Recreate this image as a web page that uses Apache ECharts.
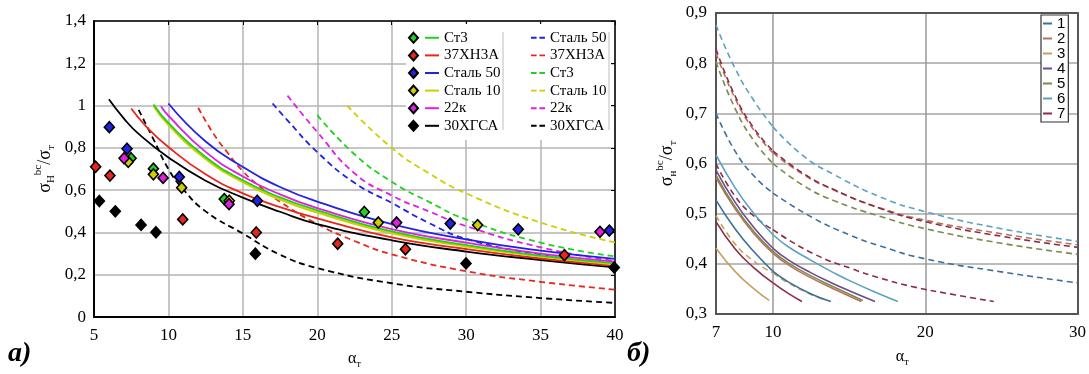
<!DOCTYPE html>
<html>
<head>
<meta charset="utf-8">
<script src="https://cdn.jsdelivr.net/npm/echarts@6/dist/echarts.min.js"></script>
<style>
  html, body { margin: 0; padding: 0; background: #fff; }
  #chart { width: 1089px; height: 374px; }
</style>
</head>
<body>
<div id="chart"></div>
<script>
// ---------------- Panel a) data ----------------
const materialsA = ['Ст3', '37ХН3А', 'Сталь 50', 'Сталь 10', '22к', '30ХГСА'];
const dashedOrderA = ['Сталь 50', '37ХН3А', 'Ст3', 'Сталь 10', '22к', '30ХГСА'];
const xTicksA = [5, 10, 15, 20, 25, 30, 35, 40];
const yTicksA = [0, 0.2, 0.4, 0.6, 0.8, 1, 1.2, 1.4];

// experimental points [α_т, σ/σ_т]
const ptsSt3   = [[7.49,0.751],[8.99,0.702],[13.75,0.558],[23.16,0.497]];
const pts37    = [[5.11,0.711],[6.07,0.669],[10.96,0.462],[15.9,0.40],[21.37,0.347],[25.92,0.321],[36.6,0.293]];
const ptsSt50  = [[6.03,0.898],[7.22,0.796],[10.73,0.663],[15.97,0.55],[28.93,0.442],[33.5,0.415],[39.62,0.409]];
const ptsSt10  = [[7.3,0.734],[8.99,0.675],[10.89,0.612],[14.09,0.55],[24.1,0.447],[30.77,0.435]];
const pts22k   = [[7.02,0.751],[9.64,0.658],[14.07,0.534],[25.33,0.447],[38.99,0.403]];
const pts30    = [[5.36,0.549],[6.43,0.50],[8.16,0.436],[9.16,0.401],[15.84,0.30],[29.99,0.254],[39.95,0.234]];

// solid curves
const solSt3  = [[9,1.005],[10,0.918],[12.5,0.757],[15,0.647],[17.5,0.566],[20,0.505],[25,0.405],[30,0.341],[35,0.291],[40,0.255]];
const sol37   = [[7.5,0.986],[8.5,0.902],[10,0.804],[12.5,0.675],[15,0.585],[17.5,0.52],[20,0.467],[25,0.377],[30,0.322],[35,0.277],[40,0.242]];
const solSt50 = [[10,1.01],[12.5,0.83],[15,0.71],[17.5,0.615],[20,0.546],[25,0.44],[30,0.368],[35,0.314],[40,0.275]];
const solSt10 = [[9,1.0],[10,0.91],[12.5,0.749],[15,0.639],[17.5,0.556],[20,0.495],[25,0.397],[30,0.335],[35,0.287],[40,0.25]];
const sol22k  = [[9.5,0.997],[10,0.952],[12.5,0.781],[15,0.665],[17.5,0.58],[20,0.515],[25,0.416],[30,0.352],[35,0.3],[40,0.262]];
const sol30   = [[6,1.03],[7,0.94],[8,0.866],[10,0.755],[12.5,0.645],[15,0.565],[17.5,0.498],[20,0.44],[25,0.363],[30,0.31],[35,0.27],[40,0.235]];

// dashed curves
const dsSt50 = [[17,1.01],[18,0.93],[20,0.78],[22.5,0.635],[25,0.54],[27.5,0.445],[30,0.37],[35,0.295],[40,0.242]];
const ds37   = [[12,0.99],[13,0.87],[14,0.775],[15,0.69],[16,0.625],[17.5,0.545],[20,0.44],[22.5,0.36],[25,0.297],[30,0.217],[35,0.167],[40,0.13]];
const dsSt3  = [[20,0.955],[22.5,0.77],[25,0.64],[27.5,0.545],[30,0.462],[35,0.352],[40,0.287]];
const dsSt10 = [[22,1.0],[25,0.80],[27.5,0.68],[30,0.585],[35,0.447],[40,0.353]];
const ds22k  = [[18,1.047],[20,0.875],[22.5,0.68],[25,0.575],[27.5,0.5],[30,0.43],[35,0.33],[40,0.265]];
const ds30   = [[8,0.98],[9,0.84],[10,0.70],[10.9,0.612],[12.5,0.5],[15,0.395],[17.5,0.295],[20,0.232],[25,0.16],[30,0.12],[35,0.09],[40,0.067]];

// ---------------- Panel б) data ----------------
const namesB = ['1', '2', '3', '4', '5', '6', '7'];
const xLabelsB = [7, 10, 20, 30];
const yTicksB = [0.3, 0.4, 0.5, 0.6, 0.7, 0.8, 0.9];

const solB1 = [[7,0.527],[8,0.47],[9,0.424],[10,0.385],[11,0.364],[12.5,0.34],[13.8,0.325]];
const solB2 = [[7,0.572],[8,0.51],[9,0.46],[10,0.421],[11,0.398],[12.5,0.372],[14,0.35],[15.8,0.325]];
const solB3 = [[7,0.431],[8,0.385],[9,0.35],[9.8,0.327]];
const solB4 = [[7,0.587],[8,0.523],[9,0.472],[10,0.431],[11,0.408],[12.5,0.382],[14,0.36],[15.2,0.344],[16.7,0.325]];
const solB5 = [[7,0.577],[8,0.514],[9,0.464],[10,0.425],[11,0.402],[12.5,0.376],[14,0.354],[15.9,0.327]];
const solB6 = [[7,0.617],[8,0.552],[9,0.5],[10,0.458],[11,0.434],[12.5,0.407],[14,0.382],[15.2,0.364],[17,0.34],[18.2,0.325]];
const solB7 = [[7,0.484],[8,0.43],[9,0.392],[10,0.362],[11,0.341],[11.9,0.325]];

const dsB1  = [[7,0.70],[8,0.625],[9,0.575],[10,0.541],[12.6,0.492],[15,0.458],[17,0.436],[20,0.41],[25,0.384],[30,0.362]];
const dsB2  = [[7,0.82],[8,0.73],[9,0.666],[10,0.621],[12,0.578],[14,0.547],[17,0.512],[20,0.487],[25,0.46],[30,0.438]];
const dsB3  = [[7,0.496],[8,0.44],[9,0.405],[10,0.382],[11,0.362],[12.3,0.342],[13.5,0.327]];
const dsB5  = [[7,0.803],[8,0.71],[9,0.645],[10,0.60],[12,0.556],[14,0.526],[17,0.495],[20,0.47],[25,0.441],[30,0.419]];
const dsB6  = [[7,0.876],[8,0.79],[9,0.725],[10,0.673],[12,0.615],[14,0.578],[17,0.534],[20,0.504],[25,0.47],[30,0.445]];
const dsB7  = [[7,0.828],[8,0.735],[9,0.67],[10,0.625],[12,0.58],[14,0.548],[17,0.511],[20,0.484],[25,0.455],[30,0.433]];
const dsB7b = [[7,0.6],[8,0.535],[9,0.495],[10,0.468],[12.6,0.421],[15.2,0.39],[17,0.372],[19.1,0.355],[22,0.338],[24.5,0.325]];

// ---------------- styles ----------------
const SERIF = '"Liberation Serif", "DejaVu Serif", serif';
const SANS = '"Liberation Sans", "DejaVu Sans", sans-serif';
const colA = { 'Ст3': '#1fd21f', '37ХН3А': '#e8261e', 'Сталь 50': '#2222e6', 'Сталь 10': '#cfcf00', '22к': '#e020e0', '30ХГСА': '#000000' };
const colB = { '1': '#3d6f9c', '2': '#b8705a', '3': '#c2a25e', '4': '#6c4b8c', '5': '#7a8a4c', '6': '#5aa2c2', '7': '#8c2c48' };

const ptsA = { 'Ст3': ptsSt3, '37ХН3А': pts37, 'Сталь 50': ptsSt50, 'Сталь 10': ptsSt10, '22к': pts22k, '30ХГСА': pts30 };
const solA = { 'Ст3': solSt3, '37ХН3А': sol37, 'Сталь 50': solSt50, 'Сталь 10': solSt10, '22к': sol22k, '30ХГСА': sol30 };
const dsA  = { 'Ст3': dsSt3, '37ХН3А': ds37, 'Сталь 50': dsSt50, 'Сталь 10': dsSt10, '22к': ds22k, '30ХГСА': ds30 };
const solB = { '1': solB1, '2': solB2, '3': solB3, '4': solB4, '5': solB5, '6': solB6, '7': solB7 };
const dsB  = [['1', dsB1], ['6', dsB6], ['2', dsB2], ['7', dsB7], ['5', dsB5], ['7', dsB7b], ['3', dsB3]];

const fmtComma = v => String(Math.round(v * 10) / 10).replace('.', ',');
const DASH_ICON = 'path://M0,0H6V2H0Z M9,0H15V2H9Z';
const AXIS_B = '#555';

const series = [];
function lineSeries(name, data, color, dashed, xi, yi, width) {
  return {
    name, type: 'line', data, xAxisIndex: xi, yAxisIndex: yi,
    symbol: 'none', smooth: 0.5, silent: true,
    lineStyle: { color, width: width || 1.8, type: dashed ? [6, 4] : 'solid' },
    itemStyle: { color },
    z: 3
  };
}
// panel a
dashedOrderA.forEach(m => series.push(lineSeries(m + ' (расчёт)', dsA[m], colA[m], true, 0, 0, 1.8)));
['30ХГСА', '37ХН3А', 'Сталь 10', 'Ст3', '22к', 'Сталь 50'].forEach(m =>
  series.push(lineSeries(m, solA[m], colA[m], false, 0, 0, m === 'Сталь 10' ? 2.4 : 1.8)));
materialsA.forEach(m => series.push({
  name: m + ' (опыт)', type: 'scatter', data: ptsA[m], xAxisIndex: 0, yAxisIndex: 0,
  symbol: 'diamond', symbolSize: [10, 11], silent: true,
  itemStyle: { color: colA[m], borderColor: '#000', borderWidth: 1.6, opacity: 1 },
  z: 5
}));
// panel b: the x scale of the original is stretched on 7..10, so it is drawn as two joined x-axes
function pushB(name, data, color, dashed) {
  const lo = data.filter(p => p[0] <= 10);
  const hi = data.filter(p => p[0] >= 10);
  if (lo.length > 1) series.push(lineSeries(name, lo, color, dashed, 2, 2, 1.6));
  if (hi.length > 1) series.push(lineSeries(name, hi, color, dashed, 4, 3, 1.6));
}
dsB.forEach(([n, d], i) => pushB(n + ' (пунктир ' + i + ')', d, colB[n], true));
namesB.forEach(n => pushB(n, solB[n], colB[n], false));

const nameRichX = { color: '#000', fontFamily: SERIF, fontSize: 16, lineHeight: 20,
  rich: { sub: { fontFamily: SERIF, fontSize: 10, verticalAlign: 'bottom', color: '#000' } } };
const nameRichY = { color: '#000', fontFamily: SERIF, fontSize: 18, lineHeight: 24,
  rich: { sub: { fontFamily: SERIF, fontSize: 11, verticalAlign: 'bottom', color: '#000' },
          sup: { fontFamily: SERIF, fontSize: 11, verticalAlign: 'top', color: '#000' } } };
const lblStyle = { color: '#000', fontFamily: SERIF, fontSize: 17 };

const option = {
  animation: false,
  backgroundColor: '#fff',
  grid: [
    { left: 94, top: 21, width: 521, height: 307 },
    { left: 716, top: 13, width: 57, height: 301 },
    { left: 773, top: 13, width: 305, height: 301 }
  ],
  xAxis: [
    { gridIndex: 0, type: 'value', min: xTicksA[0], max: xTicksA[xTicksA.length - 1], interval: 5, position: 'bottom',
      axisLine: { show: true, onZero: false, lineStyle: { color: '#000', width: 2 } },
      axisTick: { show: false },
      axisLabel: Object.assign({ margin: 10 }, lblStyle),
      splitLine: { show: true, lineStyle: { color: '#b4b4b4', width: 1.5 } },
      name: 'α{sub|т}', nameLocation: 'middle', nameGap: 31, nameTextStyle: nameRichX },
    { gridIndex: 0, type: 'value', min: 5, max: 40, interval: 5, position: 'top',
      axisLine: { show: true, onZero: false, lineStyle: { color: '#000', width: 1.5 } },
      axisTick: { show: true, inside: true, length: 4, lineStyle: { color: '#000', width: 1 } },
      axisLabel: { show: false }, splitLine: { show: false } },
    // panel b, part 7..10
    { gridIndex: 1, type: 'value', min: xLabelsB[0], max: xLabelsB[1], position: 'bottom',
      axisLine: { show: true, onZero: false, lineStyle: { color: AXIS_B, width: 2 } },
      axisTick: { show: false },
      axisLabel: Object.assign({ margin: 10, customValues: [xLabelsB[0]] }, lblStyle),
      splitLine: { show: false } },
    { gridIndex: 1, type: 'value', min: xLabelsB[0], max: xLabelsB[1], position: 'top',
      axisLine: { show: true, onZero: false, lineStyle: { color: AXIS_B, width: 2 } },
      axisTick: { show: false }, axisLabel: { show: false }, splitLine: { show: false } },
    // panel b, part 10..30
    { gridIndex: 2, type: 'value', min: xLabelsB[1], max: xLabelsB[3], interval: 10, position: 'bottom',
      axisLine: { show: true, onZero: false, lineStyle: { color: AXIS_B, width: 2 } },
      axisTick: { show: false },
      axisLabel: Object.assign({ margin: 10 }, lblStyle),
      splitLine: { show: true, lineStyle: { color: '#9a9a9a', width: 1.5 } },
      name: 'α{sub|т}', nameLocation: 'middle', nameGap: 33,
      nameTextStyle: Object.assign({ padding: [0, 46, 0, 0] }, nameRichX) },
    { gridIndex: 2, type: 'value', min: 10, max: 30, position: 'top',
      axisLine: { show: true, onZero: false, lineStyle: { color: AXIS_B, width: 2 } },
      axisTick: { show: false }, axisLabel: { show: false }, splitLine: { show: false } }
  ],
  yAxis: [
    { gridIndex: 0, type: 'value', min: yTicksA[0], max: yTicksA[yTicksA.length - 1], interval: 0.2, position: 'left',
      axisLine: { show: true, onZero: false, lineStyle: { color: '#000', width: 2 } },
      axisTick: { show: false },
      axisLabel: Object.assign({ margin: 8, formatter: fmtComma }, lblStyle),
      splitLine: { show: true, lineStyle: { color: '#b4b4b4', width: 1.5 } },
      name: 'σ{sub|H}{sup|bc}/σ{sub|т}', nameLocation: 'middle', nameGap: 37, nameRotate: 90, nameTextStyle: nameRichY },
    { gridIndex: 0, type: 'value', min: 0, max: 1.4, interval: 0.2, position: 'right',
      axisLine: { show: true, onZero: false, lineStyle: { color: '#000', width: 1.5 } },
      axisTick: { show: true, inside: true, length: 4, lineStyle: { color: '#000', width: 1 } },
      axisLabel: { show: false }, splitLine: { show: false } },
    { gridIndex: 1, type: 'value', min: yTicksB[0], max: yTicksB[yTicksB.length - 1], interval: 0.1, position: 'left',
      axisLine: { show: true, onZero: false, lineStyle: { color: AXIS_B, width: 2 } },
      axisTick: { show: false },
      axisLabel: Object.assign({ margin: 9, formatter: v => v.toFixed(1).replace('.', ',') }, lblStyle),
      splitLine: { show: true, lineStyle: { color: '#a4a4a4', width: 1.5 } },
      name: 'σ{sub|н}{sup|bc}/σ{sub|т}', nameLocation: 'middle', nameGap: 37, nameRotate: 90, nameTextStyle: nameRichY },
    { gridIndex: 2, type: 'value', min: 0.3, max: 0.9, interval: 0.1, position: 'left',
      axisLine: { show: false }, axisTick: { show: false }, axisLabel: { show: false },
      splitLine: { show: true, lineStyle: { color: '#a4a4a4', width: 1.5 } } },
    { gridIndex: 2, type: 'value', min: 0.3, max: 0.9, interval: 0.1, position: 'right',
      axisLine: { show: true, onZero: false, lineStyle: { color: AXIS_B, width: 2 } },
      axisTick: { show: false }, axisLabel: { show: false }, splitLine: { show: false } }
  ],
  legend: [
    { data: materialsA.map(m => m + ' (опыт)'), orient: 'vertical', left: 408, top: 29, padding: 0, itemGap: 0,
      itemWidth: 9, itemHeight: 10, selectedMode: false, formatter: () => ' ',
      textStyle: { fontFamily: SERIF, fontSize: 15, lineHeight: 17.6 } },
    { data: materialsA, orient: 'vertical', left: 425, top: 29, padding: 0, itemGap: 0,
      icon: 'rect', itemWidth: 14, itemHeight: 2, selectedMode: false,
      textStyle: { fontFamily: SERIF, fontSize: 15, lineHeight: 17.6, color: '#000' } },
    { data: dashedOrderA.map(m => m + ' (расчёт)'), orient: 'vertical', left: 531, top: 29, padding: 0, itemGap: 0,
      icon: DASH_ICON, itemWidth: 14, itemHeight: 2, selectedMode: false, formatter: n => n.split(' (')[0],
      textStyle: { fontFamily: SERIF, fontSize: 15, lineHeight: 17.6, color: '#000' } },
    { data: namesB, orient: 'vertical', left: 1041, top: 15, padding: [1, 3, 1, 2], itemGap: 0,
      icon: 'rect', itemWidth: 9, itemHeight: 2, selectedMode: false,
      backgroundColor: '#fff', borderColor: '#333', borderWidth: 1.2,
      textStyle: { fontFamily: SANS, fontSize: 15, lineHeight: 14.6, color: '#000' } }
  ],
  graphic: [
    { type: 'rect', z: 1, silent: true, shape: { x: 406, y: 24, width: 205, height: 116 }, style: { fill: '#fff' } },
    { type: 'line', z: 1, silent: true, shape: { x1: 503, y1: 32, x2: 503, y2: 130 }, style: { stroke: '#bdbdbd', lineWidth: 1 } },
    { type: 'line', z: 1, silent: true, shape: { x1: 609, y1: 32, x2: 609, y2: 130 }, style: { stroke: '#bdbdbd', lineWidth: 1 } },
    { type: 'text', left: 8, top: 340, silent: true,
      style: { text: 'a)', font: 'italic bold 28px ' + SERIF, fill: '#000' } },
    { type: 'text', left: 627, top: 340, silent: true,
      style: { text: 'б)', font: 'italic bold 28px ' + SERIF, fill: '#000' } }
  ],
  series
};

const chart = echarts.init(document.getElementById('chart'), null, { renderer: 'canvas' });
chart.setOption(option);
</script>
</body>
</html>
